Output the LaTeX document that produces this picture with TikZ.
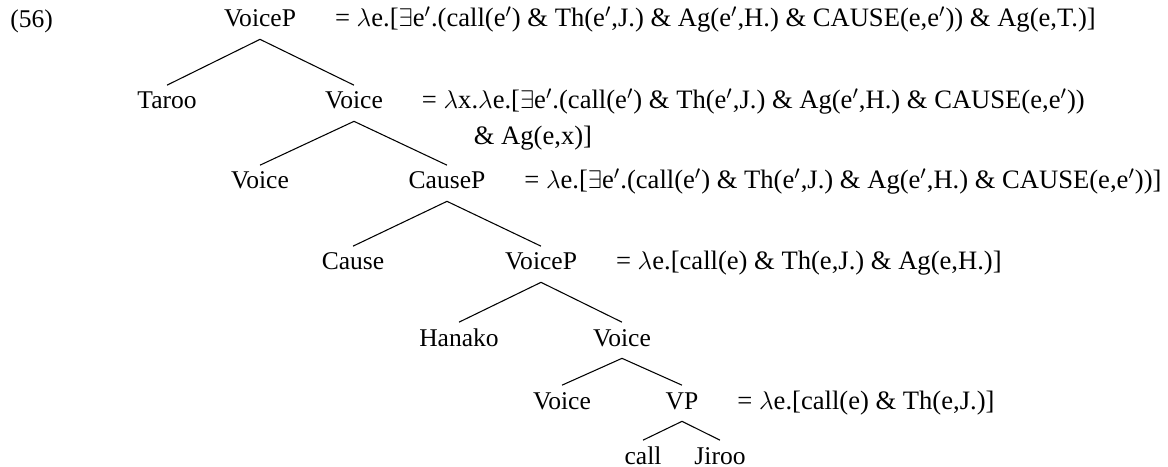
\documentclass[tikz,border=0pt]{standalone}
\usepackage{fontspec}
\setmainfont{Liberation Serif}
\usetikzlibrary{positioning}
\tikzstyle{cat} = [anchor=base, inner xsep=0pt, inner ysep=3pt, text height=8pt, text depth=2.6pt]
\tikzstyle{sem} = [inner sep=0pt, font=\fontsize{12.5pt}{14pt}\selectfont]
\tikzstyle{branch} = [line width=0.5pt]
\newcommand{\ep}{e$'$}
\newcommand{\lam}{$\lambda$}

\begin{document}
\begin{tikzpicture}[x=0.47pt, y=-0.47pt, font=\fontsize{12pt}{14pt}\selectfont] % one unit = one pixel, y grows downwards
\useasboundingbox (0,-2) rectangle (1168,465);

% Tree nodes, placed row by row
\node(exnum)      [cat, anchor=base west] at (10,26)  {(56)};
\node(voicep)     [cat] at (260,25)  {VoiceP};
\node(taroo)      [cat] at (167,107) {Taroo};
\node(voicebar)   [cat] at (354,107) {Voice};
\node(voicehead)  [cat] at (260,187) {Voice};
\node(causep)     [cat] at (447,187) {CauseP};
\node(cause)      [cat] at (353,268) {Cause};
\node(lowvoicep)  [cat] at (541,268) {VoiceP};
\node(hanako)     [cat] at (459,344) {Hanako};
\node(lowvoicebar)[cat] at (622,344) {Voice};
\node(lowvoicehd) [cat] at (562,407) {Voice};
\node(vp)         [cat] at (682,407) {VP};
\node(call)       [cat] at (643,462) {call};
\node(jiroo)      [cat] at (720,462) {Jiroo};

% Denotations to the right of the labels
\node(voicep_sem)    [sem, base right=18pt of voicep]    {= \lam e.[$\exists$\ep.(call(\ep) \& Th(\ep,J.) \& Ag(\ep,H.) \& CAUSE(e,\ep)) \& Ag(e,T.)]};
\node(voicebar_sem)  [sem, base right=18pt of voicebar]  {= \lam x.\lam e.[$\exists$\ep.(call(\ep) \& Th(\ep,J.) \& Ag(\ep,H.) \& CAUSE(e,\ep))};
\node(voicebar_sem2) [sem, anchor=base west] at ([xshift=24.4pt, yshift=-16.9pt]voicebar_sem.base west) {\& Ag(e,x)]};
\node(causep_sem)    [sem, base right=18pt of causep]    {= \lam e.[$\exists$\ep.(call(\ep) \& Th(\ep,J.) \& Ag(\ep,H.) \& CAUSE(e,\ep))]};
\node(lowvoicep_sem) [sem, base right=18pt of lowvoicep] {= \lam e.[call(e) \& Th(e,J.) \& Ag(e,H.)]};
\node(vp_sem)        [sem, base right=18pt of vp]        {= \lam e.[call(e) \& Th(e,J.)]};

% Branches
\draw [branch] (voicep.south)      -- (taroo.north);
\draw [branch] (voicep.south)      -- (voicebar.north);
\draw [branch] (voicebar.south)    -- (voicehead.north);
\draw [branch] (voicebar.south)    -- (causep.north);
\draw [branch] (causep.south)      -- (cause.north);
\draw [branch] (causep.south)      -- (lowvoicep.north);
\draw [branch] (lowvoicep.south)   -- (hanako.north);
\draw [branch] (lowvoicep.south)   -- (lowvoicebar.north);
\draw [branch] (lowvoicebar.south) -- (lowvoicehd.north);
\draw [branch] (lowvoicebar.south) -- (vp.north);
\draw [branch] (vp.south)          -- (call.north);
\draw [branch] (vp.south)          -- (jiroo.north);

\end{tikzpicture}
\end{document}
